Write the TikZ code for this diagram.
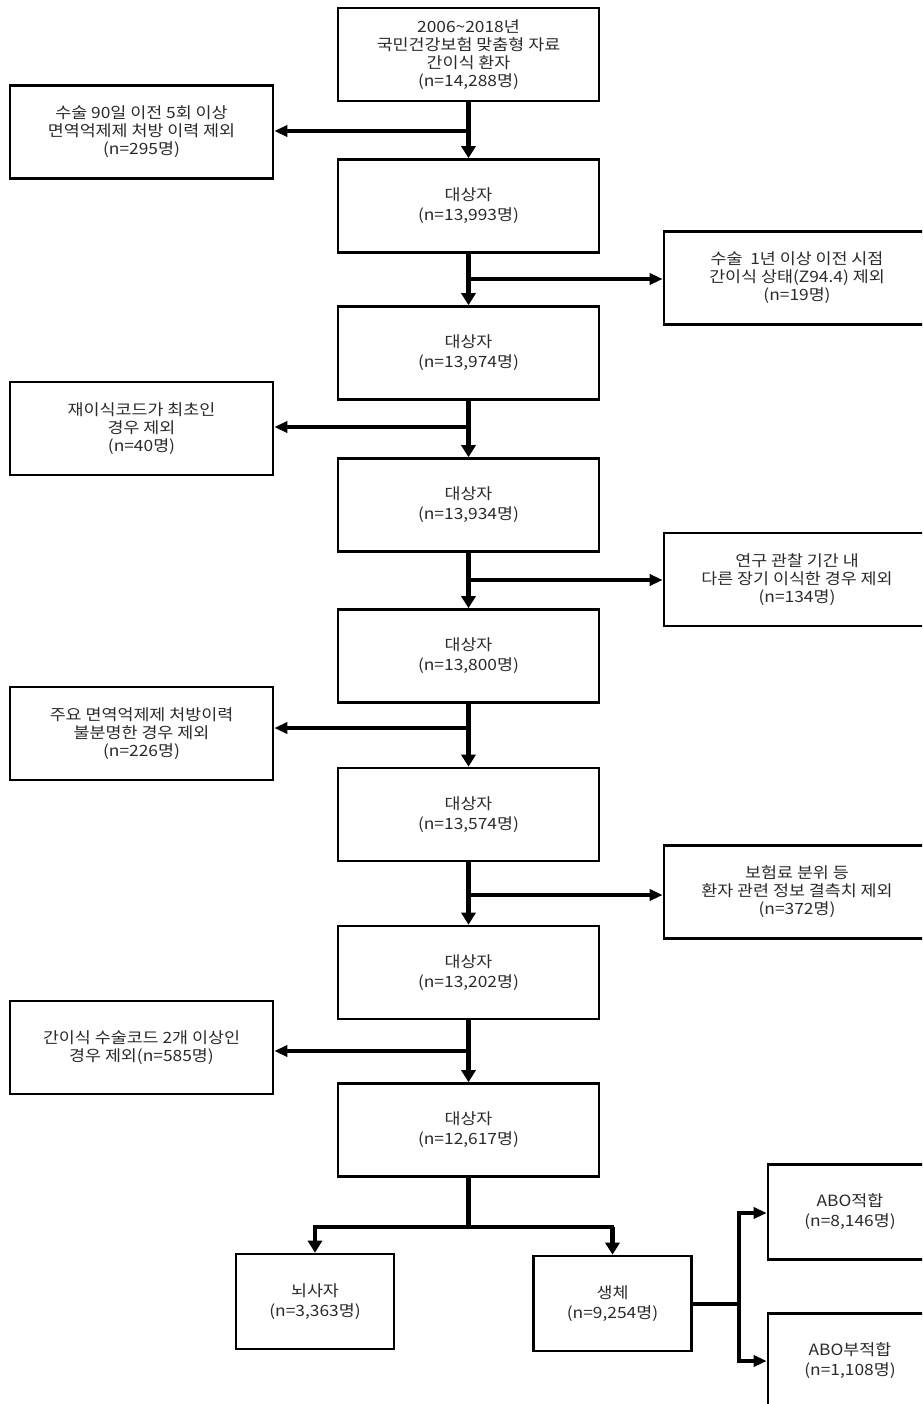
\documentclass[tikz,border=0pt]{standalone}
\usepackage{fontspec}
\setmainfont{Noto Sans CJK KR}[FakeStretch=1.12]
\usetikzlibrary{arrows.meta}
\definecolor{txt}{HTML}{2A2A2A}
\begin{document}
\begin{tikzpicture}[x=1pt,y=-1pt,
  fbox/.style={draw=black,line width=2.6pt,fill=white,align=center,
    inner sep=0pt,text=txt,font=\fontsize{15.5}{18}\selectfont},
  mainbox/.style={fbox,minimum width=261pt,minimum height=93pt},
  twoline/.style={font=\fontsize{15.5}{20}\selectfont},
  sidebox/.style={fbox,minimum width=263pt,minimum height=93pt},
  smallbox/.style={fbox,twoline,minimum width=158pt,minimum height=95pt},
  trunk/.style={line width=4.2pt},
  branch/.style={line width=3.3pt},
  arr/.style={-{Triangle[length=12pt,width=14pt]}},
  harr/.style={-{Triangle[length=13pt,width=11pt]}},
]
\clip (0,0) rectangle (922,1404);
\fill[white] (0,0) rectangle (922,1404);

% main column
\node[mainbox] (m0) at (468.5,54.5) {2006\textasciitilde 2018년\\국민건강보험 맞춤형 자료\\간이식 환자\\(n=14,288명)};
\node[mainbox,twoline] (m1) at (468.5,206) {대상자\\(n=13,993명)};
\node[mainbox,twoline] (m2) at (468.5,353) {대상자\\(n=13,974명)};
\node[mainbox,twoline] (m3) at (468.5,505) {대상자\\(n=13,934명)};
\node[mainbox,twoline] (m4) at (468.5,656) {대상자\\(n=13,800명)};
\node[mainbox,twoline] (m5) at (468.5,814.5) {대상자\\(n=13,574명)};
\node[mainbox,twoline] (m6) at (468.5,972.5) {대상자\\(n=13,202명)};
\node[mainbox,twoline] (m7) at (468.5,1130) {대상자\\(n=12,617명)};

% left exclusion boxes
\node[sidebox] (l1) at (141.5,132) {수술 90일 이전 5회 이상\\면역억제제 처방 이력 제외\\(n=295명)};
\node[sidebox] (l2) at (141.5,428.5) {재이식코드가 최초인\\경우 제외\\(n=40명)};
\node[sidebox] (l3) at (141.5,733.5) {주요 면역억제제 처방이력\\불분명한 경우 제외\\(n=226명)};
\node[sidebox] (l4) at (141.5,1047.5) {간이식 수술코드 2개 이상인\\경우 제외(n=585명)};

% right exclusion boxes
\node[sidebox,minimum width=266pt] (r1) at (797,278) {수술 \ 1년 이상 이전 시점\\간이식 상태(Z94.4) 제외\\(n=19명)};
\node[sidebox,minimum width=266pt] (r2) at (797,579.5) {연구 관찰 기간 내\\다른 장기 이식한 경우 제외\\(n=134명)};
\node[sidebox,minimum width=266pt] (r3) at (797,892) {보험료 분위 등\\환자 관련 정보 결측치 제외\\(n=372명)};

% bottom boxes
\node[smallbox] (d) at (315,1301.5) {뇌사자\\(n=3,363명)};
\node[smallbox] (v) at (612.5,1303.5) {생체\\(n=9,254명)};
\node[smallbox,minimum width=164pt] (a1) at (850,1212) {ABO적합\\(n=8,146명)};
\node[smallbox,minimum width=164pt] (a2) at (850,1361) {ABO부적합\\(n=1,108명)};

% trunk arrows
\foreach \a/\b in {m0/m1,m1/m2,m2/m3,m3/m4,m4/m5,m5/m6,m6/m7}
  \draw[trunk,arr] (\a.south) -- (\b.north);

% branch points on trunk
\coordinate (b1) at (468.5,131);
\coordinate (b2) at (468.5,279);
\coordinate (b3) at (468.5,427);
\coordinate (b4) at (468.5,580);
\coordinate (b5) at (468.5,728);
\coordinate (b6) at (468.5,895);
\coordinate (b7) at (468.5,1051);

\draw[branch,harr] (b1) -- (b1 -| l1.east);
\draw[branch,harr] (b2) -- (b2 -| r1.west);
\draw[branch,harr] (b3) -- (b3 -| l2.east);
\draw[branch,harr] (b4) -- (b4 -| r2.west);
\draw[branch,harr] (b5) -- (b5 -| l3.east);
\draw[branch,harr] (b6) -- (b6 -| r3.west);
\draw[branch,harr] (b7) -- (b7 -| l4.east);

% split into donor types
\coordinate (j) at (468.5,1227);
\coordinate (jl) at (315,1227);
\coordinate (jr) at (612.5,1227);
\draw[trunk] (m7.south) -- (j);
\draw[branch,line cap=rect] (jl) -- (jr);
\draw[trunk,arr] (jl) -- (d.north);
\draw[trunk,arr] (jr) -- (v.north);

% split of living donors
\coordinate (k) at (739,1304);
\coordinate (kt) at (739,1213);
\coordinate (kb) at (739,1361);
\draw[branch] (v.east |- k) -- (k);
\draw[trunk,line cap=rect] (kt) -- (kb);
\draw[branch,harr] (kt) -- (kt -| a1.west);
\draw[branch,harr] (kb) -- (kb -| a2.west);
\end{tikzpicture}
\end{document}
